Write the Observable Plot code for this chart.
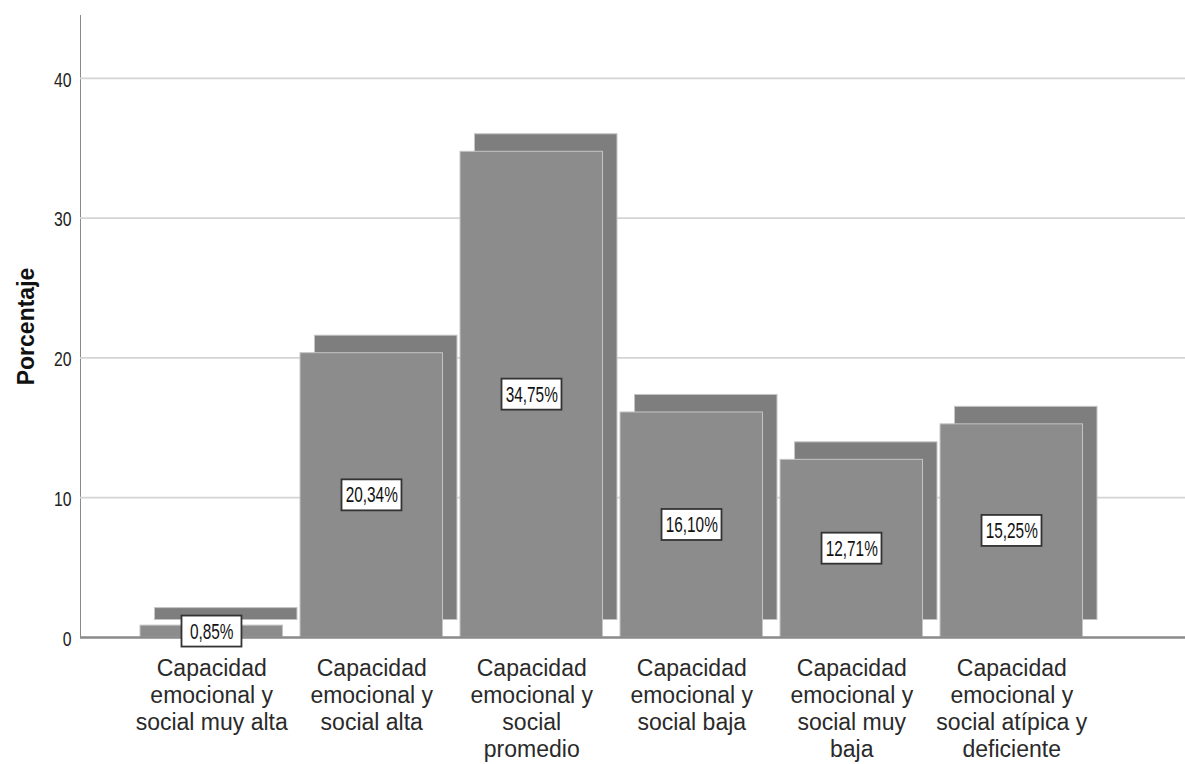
<!DOCTYPE html>
<html>
<head>
<meta charset="utf-8">
<script src="https://cdn.jsdelivr.net/npm/d3@7"></script>
<script src="https://cdn.jsdelivr.net/npm/@observablehq/plot@0.6"></script>
<style>
  html, body { margin: 0; padding: 0; background: #fff; }
  #chart { width: 1185px; height: 764px; overflow: hidden; }
</style>
</head>
<body>
<div id="chart"></div>
<script>
// ---- data ----
const categories = [
  "Capacidad emocional y social muy alta",
  "Capacidad emocional y social alta",
  "Capacidad emocional y social promedio",
  "Capacidad emocional y social baja",
  "Capacidad emocional y social muy baja",
  "Capacidad emocional y social atípica y deficiente"
];
const categoryLabels = [
  "Capacidad\nemocional y\nsocial muy alta",
  "Capacidad\nemocional y\nsocial alta",
  "Capacidad\nemocional y\nsocial\npromedio",
  "Capacidad\nemocional y\nsocial baja",
  "Capacidad\nemocional y\nsocial muy\nbaja",
  "Capacidad\nemocional y\nsocial atípica y\ndeficiente"
];
const percentages = [0.85, 20.34, 34.75, 16.10, 12.71, 15.25];
const valueLabels = ["0,85%", "20,34%", "34,75%", "16,10%", "12,71%", "15,25%"];
const yTicks = [0, 10, 20, 30, 40];
const yTitle = "Porcentaje";

const rows = categories.map((c, i) => ({cat: c, v: percentages[i], label: valueLabels[i], axisLabel: categoryLabels[i]}));

const FONT = "Arial, 'Liberation Sans', Helvetica, sans-serif";

const chart = Plot.plot({
  width: 1185,
  height: 764,
  marginLeft: 80,
  marginRight: 0,
  marginTop: 15,
  marginBottom: 127,
  style: {fontFamily: FONT, background: "white", color: "#8a8a8a", overflow: "visible"},
  x: {type: "band", domain: categories, range: [140, 1097], paddingInner: 0.019, paddingOuter: 0, round: false, axis: null},
  y: {domain: [0, 44.5], ticks: yTicks, tickSize: 0, tickFormat: () => "", line: true, label: null},
  marks: [
    Plot.ruleY(yTicks.filter(d => d > 0), {stroke: "#d4d4d4", strokeWidth: 1.8}),
    // back faces of the 3D bars
    Plot.barY(rows, {x: "cat", y: "v", fill: "#7e7e7e", stroke: "#c4c4c4", strokeWidth: 1, insetLeft: 14.5, dy: -17.5}),
    // front faces
    Plot.barY(rows, {x: "cat", y: "v", fill: "#8c8c8c", stroke: "#c4c4c4", strokeWidth: 1, insetRight: 14.5}),
    Plot.ruleY([0], {stroke: "#8a8a8a", strokeWidth: 2.5}),
    // value label boxes
    Plot.barY(rows, {x: "cat", y1: d => d.v / 2, y2: d => d.v / 2, insetTop: -15.5, insetBottom: -15.5,
      insetLeft: 41.5, insetRight: 55.5, fill: "white", stroke: "#333", strokeWidth: 1.8}),
    // value labels (1st text mark)
    Plot.text(rows, {x: "cat", y: d => d.v / 2, text: "label", dx: -7.25, fontSize: 22, fill: "#111"}),
    // y tick labels (2nd text mark)
    Plot.text(yTicks, {y: d => d, text: d => String(d), frameAnchor: "left", textAnchor: "end", dx: -9, dy: 1.5,
      fontSize: 21, fill: "#222"}),
    // category labels
    Plot.text(rows, {x: "cat", y: () => 0, text: "axisLabel", dx: -7.25, dy: 19, lineAnchor: "top", lineHeight: 1.18,
      fontSize: 23, fill: "#2a2a2a"}),
    // y title
    Plot.text([yTitle], {text: d => d, frameAnchor: "left", textAnchor: "middle", rotate: -90, dx: -47, lineAnchor: "bottom",
      fontSize: 23, fontWeight: "bold", fill: "#111"})
  ]
});

// condense glyphs horizontally (positions stay where Plot put them)
function squeeze(group, sx, sy) {
  if (!group) return;
  group.querySelectorAll("text").forEach(t => {
    const tr = t.getAttribute("transform") || "";
    t.setAttribute("transform", `${tr} scale(${sx},${sy})`);
  });
}
const textGroups = Array.from(chart.querySelectorAll('g[aria-label="text"]'));
squeeze(textGroups[0], 0.7, 1);
squeeze(textGroups[1], 0.75, 1);

document.getElementById("chart").appendChild(chart);
</script>
</body>
</html>
